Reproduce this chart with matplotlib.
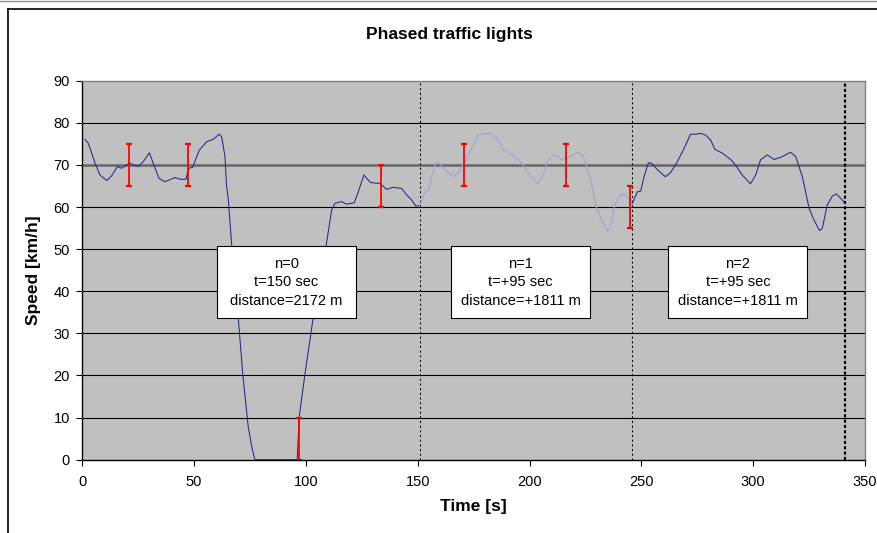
import matplotlib
matplotlib.use("Agg")
import matplotlib.pyplot as plt
from matplotlib.patches import Rectangle
from matplotlib.lines import Line2D

plt.rcParams['font.family'] = ['Liberation Sans', 'DejaVu Sans']

# ---- data ----
n0_time = [1.2, 2.7, 4.2, 5.7, 7.9, 10.9, 13.1, 15.7, 17.6, 21.0, 25.0, 27.3, 30.0,
           31.7, 34.3, 37.0, 41.4, 43.7, 46.4, 47.4, 49.3, 52.3, 55.6, 58.6, 61.2,
           62.3, 63.8, 64.5, 65.3, 66.8, 69.7, 71.7, 74.2, 76.0, 77.2, 96.1, 97.0,
           99.6, 101.8, 103.7, 109.2, 111.5, 113.0, 116.0, 117.9, 121.6, 123.4,
           125.9, 128.9, 133.1, 136.1, 139.0, 142.8, 145.0, 147.2, 149.2, 151.0]
n0_speed = [76.1, 75.1, 72.8, 70.4, 67.6, 66.3, 67.4, 69.6, 69.2, 70.4, 69.6, 70.8, 72.9,
            70.4, 66.8, 66.0, 67.0, 66.6, 66.6, 69.2, 69.4, 73.5, 75.5, 76.1, 77.3,
            76.7, 72.0, 65.0, 61.7, 51.0, 34.0, 20.6, 7.8, 2.5, 0.0, 0.0, 10.2,
            20.5, 28.4, 35.5, 51.4, 59.3, 60.9, 61.3, 60.7, 61.0, 63.6,
            67.6, 65.8, 65.6, 64.2, 64.7, 64.4, 62.9, 61.7, 60.2, 60.4]

n1_time = [151.0, 153.2, 154.7, 156.2, 158.1, 159.6, 162.6, 165.8, 168.1, 171.1, 174.1,
           177.0, 179.3, 181.5, 183.7, 186.0, 187.9, 191.2, 194.9, 197.1, 200.1, 203.8,
           206.1, 208.3, 211.3, 214.3, 217.3, 221.7, 224.0, 227.0, 230.0, 232.2, 234.7,
           235.9, 238.1, 240.4, 242.2, 244.8, 246.0]
n1_speed = [60.4, 63.6, 63.8, 67.2, 70.5, 70.4, 68.6, 67.2, 68.2, 70.8, 73.9,
            77.3, 77.3, 77.5, 77.1, 75.9, 73.7, 72.8, 71.3, 70.0, 67.6, 65.5,
            67.6, 71.2, 72.4, 71.3, 71.8, 73.0, 72.0, 67.2, 59.7, 56.9, 54.4,
            54.9, 60.5, 62.6, 63.1, 61.7, 60.9]

n2_time = [246.0, 248.2, 249.7, 251.2, 253.1, 254.6, 257.6, 260.8, 263.1, 266.1, 269.1,
           272.0, 274.3, 276.5, 278.7, 281.0, 282.9, 286.2, 289.9, 292.1, 295.1, 298.8,
           301.1, 303.3, 306.3, 309.3, 312.3, 316.7, 319.0, 322.0, 325.0, 327.2, 329.7,
           330.9, 333.1, 335.4, 337.2, 339.8, 341.0]
n2_speed = [60.9, 63.6, 63.8, 67.2, 70.5, 70.4, 68.6, 67.2, 68.2, 70.8, 73.9,
            77.3, 77.3, 77.5, 77.1, 75.9, 73.7, 72.8, 71.3, 70.0, 67.6, 65.5,
            67.6, 71.2, 72.4, 71.3, 71.8, 73.0, 72.0, 67.2, 59.7, 56.9, 54.4,
            54.9, 60.5, 62.6, 63.1, 61.7, 60.9]

eb_time = [21.0, 47.1, 97.0, 133.4, 170.8, 216.1, 244.8]
eb_low = [65, 65, 0, 60, 65, 65, 55]
eb_high = [75, 75, 10, 70, 75, 75, 65]

phase_lines = [151, 246, 341]

box_texts = ["n=0\nt=150 sec\ndistance=2172 m",
             "n=1\nt=+95 sec\ndistance=+1811 m",
             "n=2\nt=+95 sec\ndistance=+1811 m"]
box_left = [60.3, 164.9, 262.1]
box_bottom = 33.6
box_w = 62.1
box_h = 17.1

x_ticks = [0, 50, 100, 150, 200, 250, 300, 350]
y_ticks = [0, 10, 20, 30, 40, 50, 60, 70, 80, 90]

# ---- figure ----
W, H = 877, 533
fig = plt.figure(figsize=(W / 100, H / 100), dpi=100)
ax = fig.add_axes([82.3 / W, 1 - 459.7 / H, (865 - 82.3) / W, (459.7 - 80.7) / H])
ax.set_facecolor('#C0C0C0')
ax.set_xlim(0, 350)
ax.set_ylim(0, 90)

# gridlines
for yv in y_ticks[1:-1]:
    if yv == 70:
        ax.axhline(yv, color='#666666', lw=1.8, zorder=1)
    else:
        ax.axhline(yv, color='black', lw=0.8, zorder=1)

# phase lines
ax.axvline(phase_lines[0], color='black', lw=0.75, ls=(0, (2, 2.5)), zorder=2)
ax.axvline(phase_lines[1], color='black', lw=0.75, ls=(0, (2, 2.5)), zorder=2)
ax.axvline(phase_lines[2], color='black', lw=1.6, ls=(0, (1.4, 1.0)), zorder=2)

# speed curves
ax.plot(n0_time, n0_speed, color='#26268f', lw=0.75, zorder=3)
ax.plot(n1_time, n1_speed, color='#a4a4d6', lw=0.9, zorder=3)
ax.plot(n2_time, n2_speed, color='#26268f', lw=0.75, zorder=3)

# error bars
mid = [(l + h) / 2 for l, h in zip(eb_low, eb_high)]
err = [(h - l) / 2 for l, h in zip(eb_low, eb_high)]
ax.errorbar(eb_time, mid, yerr=err, fmt='none', ecolor='#FF0000', elinewidth=1.3,
            capsize=2.3, capthick=1.6, zorder=4, clip_on=False)

# text boxes
for txt, bl in zip(box_texts, box_left):
    ax.add_patch(Rectangle((bl, box_bottom), box_w, box_h, facecolor='white',
                           edgecolor='black', lw=0.8, zorder=5))
    ax.text(bl + box_w / 2, box_bottom + box_h / 2, txt, ha='center', va='center',
            fontsize=10.5, linespacing=1.4, zorder=6)

# spines
ax.spines['left'].set_color('black')
ax.spines['bottom'].set_color('black')
ax.spines['top'].set_color('#808080')
ax.spines['right'].set_color('#808080')
for s in ax.spines.values():
    s.set_linewidth(1.0)
    s.set_zorder(7)

ax.set_xticks(x_ticks)
ax.set_yticks(y_ticks)
ax.tick_params(direction='out', length=4, width=0.8, labelsize=10.5, color='black')
ax.tick_params(axis='x', pad=7)
ax.tick_params(axis='y', pad=5)

ax.set_xlabel('Time [s]', fontsize=12.5, fontweight='bold', labelpad=7)
ax.set_ylabel('Speed [km/h]', fontsize=12.5, fontweight='bold', labelpad=9)

fig.text(449 / W, 1 - 35 / H, 'Phased traffic lights', ha='center', va='center',
         fontsize=12.5, fontweight='bold')

# outer chart frame (partially cropped)
fig.add_artist(Line2D([7.5 / W, 7.5 / W], [0, 1 - 9 / H], color='black', lw=1.2,
                      transform=fig.transFigure))
fig.add_artist(Line2D([7.5 / W, 1], [1 - 9 / H, 1 - 9 / H], color='black', lw=1.2,
                      transform=fig.transFigure))
fig.add_artist(Line2D([0, 1], [1 - 1 / H, 1 - 1 / H], color='#909090', lw=1.0,
                      transform=fig.transFigure))

fig.savefig('out.png', dpi=100)
